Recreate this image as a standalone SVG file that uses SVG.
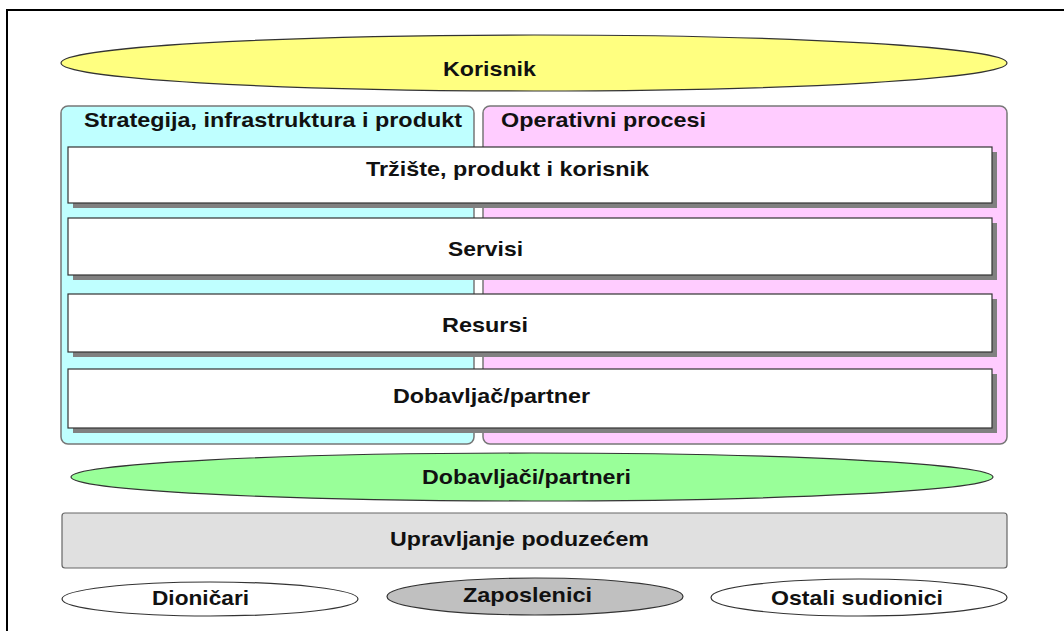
<svg xmlns="http://www.w3.org/2000/svg" width="1064" height="631" viewBox="0 0 1064 631">
  <style>
    .lbl { font-family: "Liberation Sans", Arial, sans-serif; font-weight: bold; font-size: 21px; fill: #111; }
    .edge { stroke: #333; stroke-width: 1.2; }
    .panel { stroke: #777; stroke-width: 1.5; }
    .row { fill: #fff; stroke: #333; stroke-width: 1.2; }
    .shadow { fill: #808080; }
  </style>

  <rect width="1064" height="631" fill="#fff"/>

  <!-- frame (top and left edges) -->
  <path d="M7 631 V10 H1064" fill="none" stroke="#000" stroke-width="2"/>

  <g id="korisnik">
    <ellipse cx="534" cy="63" rx="473" ry="28" fill="#ffff80" class="edge"/>
    <text class="lbl" x="443" y="76" textLength="93" lengthAdjust="spacingAndGlyphs">Korisnik</text>
  </g>

  <g id="strategija">
    <rect x="61" y="106" width="413" height="338" rx="7" fill="#bfffff" class="panel"/>
    <text class="lbl" x="84" y="127" textLength="378" lengthAdjust="spacingAndGlyphs">Strategija, infrastruktura i produkt</text>
  </g>

  <g id="operativni">
    <rect x="483" y="106" width="524" height="338" rx="7" fill="#ffccff" class="panel"/>
    <text class="lbl" x="501" y="127" textLength="205" lengthAdjust="spacingAndGlyphs">Operativni procesi</text>
  </g>

  <g id="trziste">
    <rect x="73" y="152" width="924" height="56" class="shadow"/>
    <rect x="68" y="147" width="924" height="56" class="row"/>
    <text class="lbl" x="366" y="176" textLength="283" lengthAdjust="spacingAndGlyphs">Tržište, produkt i korisnik</text>
  </g>

  <g id="servisi">
    <rect x="73" y="223" width="924" height="57" class="shadow"/>
    <rect x="68" y="218" width="924" height="57" class="row"/>
    <text class="lbl" x="448" y="256" textLength="75" lengthAdjust="spacingAndGlyphs">Servisi</text>
  </g>

  <g id="resursi">
    <rect x="73" y="299" width="924" height="58" class="shadow"/>
    <rect x="68" y="294" width="924" height="58" class="row"/>
    <text class="lbl" x="442" y="332" textLength="86" lengthAdjust="spacingAndGlyphs">Resursi</text>
  </g>

  <g id="dobavljac">
    <rect x="73" y="374" width="924" height="59" class="shadow"/>
    <rect x="68" y="369" width="924" height="59" class="row"/>
    <text class="lbl" x="393" y="403" textLength="197" lengthAdjust="spacingAndGlyphs">Dobavljač/partner</text>
  </g>

  <g id="dobavljaci">
    <ellipse cx="532" cy="477" rx="461" ry="24" fill="#99ff99" class="edge"/>
    <text class="lbl" x="422" y="484" textLength="209" lengthAdjust="spacingAndGlyphs">Dobavljači/partneri</text>
  </g>

  <g id="upravljanje">
    <rect x="62" y="513" width="945" height="55" rx="3" fill="#e0e0e0" stroke="#666" stroke-width="1.2"/>
    <text class="lbl" x="390" y="546" textLength="259" lengthAdjust="spacingAndGlyphs">Upravljanje poduzećem</text>
  </g>

  <g id="dionicari">
    <ellipse cx="210" cy="599" rx="148" ry="17" fill="#fff" class="edge"/>
    <text class="lbl" x="152" y="605" textLength="97" lengthAdjust="spacingAndGlyphs">Dioničari</text>
  </g>

  <g id="zaposlenici">
    <ellipse cx="535" cy="596.5" rx="148" ry="18.5" fill="#c0c0c0" class="edge"/>
    <text class="lbl" x="463" y="602" textLength="129" lengthAdjust="spacingAndGlyphs">Zaposlenici</text>
  </g>

  <g id="ostali">
    <ellipse cx="859" cy="597.5" rx="148" ry="18.5" fill="#fff" class="edge"/>
    <text class="lbl" x="771" y="605" textLength="172" lengthAdjust="spacingAndGlyphs">Ostali sudionici</text>
  </g>
</svg>
